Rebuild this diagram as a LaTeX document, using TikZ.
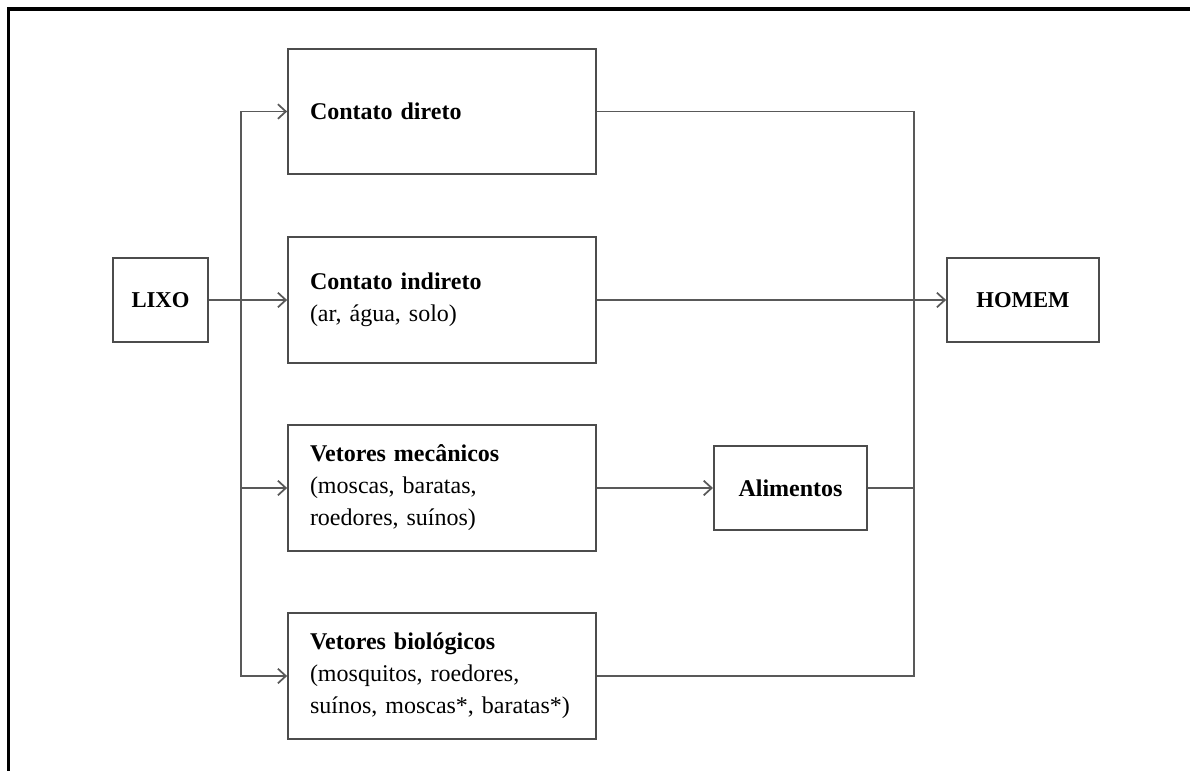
\documentclass[tikz,border=0pt]{standalone}
\usepackage{fontspec}
\setmainfont{Liberation Serif}
\usetikzlibrary{arrows.meta, positioning}

\begin{document}
\begin{tikzpicture}[x=0.75pt, y=-0.75pt,
    box/.style={draw=black!70, line width=1.3pt, rectangle, font=\fontsize{18}{24}\selectfont},
    wide box/.style={box, minimum width=231pt, minimum height=94pt, text width=198pt, inner xsep=16.5pt, align=left},
    small box/.style={box, minimum width=114pt, minimum height=62.5pt, font=\fontsize{18}{24}\selectfont\bfseries},
    wire/.style={draw=black!65, line width=1.3pt},
    arrow/.style={wire, -{Straight Barb[length=6pt, width=11pt]}}]

    \useasboundingbox (0,0) rectangle (1190,771);

    % Frame
    \draw[line width=2.3pt] (8.5,775) -- (8.5,9) -- (1195,9);

    % Boxes
    \node[small box, minimum width=71pt, font=\fontsize{17}{24}\selectfont\bfseries] (Lixo) at (160.5,300) {LIXO};
    \node[wide box] (Dir) at (442,111.5) {\textbf{Contato direto}};
    \node[wide box] (Ind) at (442,300) {\textbf{Contato indireto}\\(ar, água, solo)};
    \node[wide box] (Mec) at (442,488) {\textbf{Vetores mecânicos}\\(moscas, baratas,\\roedores, suínos)};
    \node[wide box] (Bio) at (442,676) {\textbf{Vetores biológicos}\\(mosquitos, roedores,\\suínos, moscas*, baratas*)};
    \node[small box, minimum width=115pt] (Ali) at (790.5,488) {Alimentos};
    \node[small box, font=\fontsize{17}{24}\selectfont\bfseries] (Hom) at (1023,300) {HOMEM};

    % Split and join points
    \coordinate (split) at (241,300);
    \coordinate (join) at (914,300);

    % Wires out of LIXO
    \draw[arrow] (Lixo.east) -- (Ind.west);
    \draw[arrow] (split) |- (Dir.west);
    \draw[arrow] (split) |- (Mec.west);
    \draw[arrow] (split) |- (Bio.west);
    \draw[arrow] (Mec.east) -- (Ali.west);

    % Wires into HOMEM
    \draw[wire] (Dir.east) -| (join);
    \draw[wire] (Ali.east) -| (join);
    \draw[wire] (Bio.east) -| (join);
    \draw[arrow] (Ind.east) -- (Hom.west);
\end{tikzpicture}
\end{document}
